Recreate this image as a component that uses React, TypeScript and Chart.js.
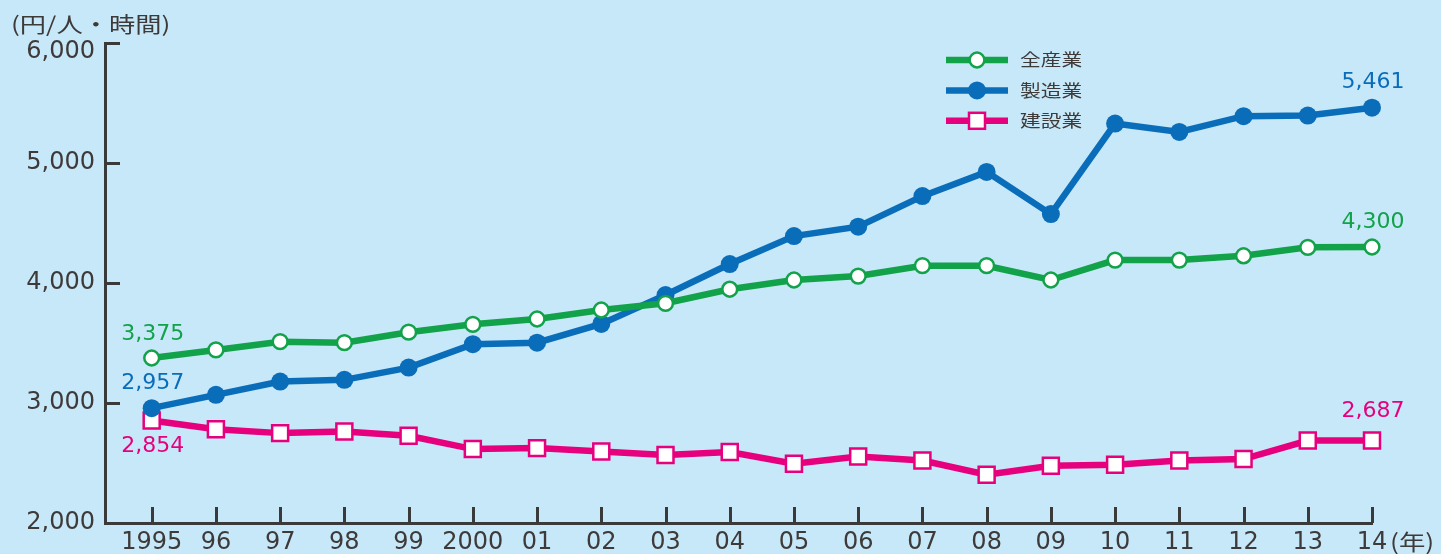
import React, { useEffect, useRef } from "react";
import { Chart, registerables } from "chart.js";

Chart.register(...registerables);

const years = [1995, 1996, 1997, 1998, 1999, 2000, 2001, 2002, 2003, 2004, 2005, 2006, 2007, 2008, 2009, 2010, 2011, 2012, 2013, 2014];
const yearLabels = ["1995", "96", "97", "98", "99", "2000", "01", "02", "03", "04", "05", "06", "07", "08", "09", "10", "11", "12", "13", "14"];
const allIndustries = [3375, 3442, 3511, 3503, 3590, 3656, 3700, 3775, 3831, 3948, 4025, 4058, 4144, 4144, 4025, 4191, 4191, 4227, 4297, 4300];
const manufacturing = [2957, 3068, 3179, 3193, 3295, 3490, 3503, 3659, 3900, 4158, 4391, 4469, 4724, 4926, 4574, 5329, 5259, 5390, 5395, 5461];
const construction = [2854, 2782, 2749, 2762, 2727, 2616, 2624, 2596, 2566, 2591, 2494, 2554, 2521, 2402, 2477, 2485, 2521, 2533, 2687, 2687];
const seriesNames = ["全産業", "製造業", "建設業"];
const yTicks = [2000, 3000, 4000, 5000, 6000];
const unitLabel = "(円/人・時間)";
const yearUnit = "(年)";

const GREEN = "#12a24a";
const BLUE = "#0a6dba";
const PINK = "#e6007e";
const AXIS = "#3a3a3a";
const TEXT = "#3e3a39";
const BG = "#c7e8f8";
const NUM_FONT = "'DejaVu Sans', sans-serif";
const CJK_FONT = "'Noto Sans CJK JP', sans-serif";

const seriesValues = [allIndustries, manufacturing, construction];
const seriesColors = [GREEN, BLUE, PINK];

// value annotations: series index, point index, vertical offset
const annotations = [
  { s: 0, i: 0, dy: -24 },
  { s: 1, i: 0, dy: -25 },
  { s: 2, i: 0, dy: 26 },
  { s: 1, i: 19, dy: -25 },
  { s: 0, i: 19, dy: -25 },
  { s: 2, i: 19, dy: -29 },
];

function fmt(v: number) {
  return v.toLocaleString("en-US");
}

function drawMarker(ctx: CanvasRenderingContext2D, s: number, x: number, y: number) {
  ctx.save();
  if (s === 0) {
    ctx.beginPath();
    ctx.arc(x, y, 7.4, 0, Math.PI * 2);
    ctx.fillStyle = "#ffffff";
    ctx.fill();
    ctx.lineWidth = 2.5;
    ctx.strokeStyle = GREEN;
    ctx.stroke();
  } else if (s === 1) {
    ctx.beginPath();
    ctx.arc(x, y, 9, 0, Math.PI * 2);
    ctx.fillStyle = BLUE;
    ctx.fill();
  } else {
    ctx.fillStyle = "#ffffff";
    ctx.fillRect(x - 8, y - 8, 16, 16);
    ctx.lineWidth = 2.5;
    ctx.strokeStyle = PINK;
    ctx.strokeRect(x - 8, y - 8, 16, 16);
  }
  ctx.restore();
}

function drawStretched(ctx: CanvasRenderingContext2D, text: string, x: number, y: number, sx: number) {
  ctx.save();
  ctx.translate(x, y);
  ctx.scale(sx, 1);
  ctx.fillText(text, 0, 0);
  ctx.restore();
}

const decorPlugin = {
  id: "decor",
  beforeDatasetsDraw(chart: any) {
    const { ctx, chartArea } = chart;
    const x = chart.scales.x;
    const y = chart.scales.y;
    ctx.save();
    ctx.strokeStyle = AXIS;
    ctx.lineWidth = 3;
    ctx.beginPath();
    years.forEach((v) => {
      const px = Math.round(x.getPixelForValue(v)) + 0.5;
      ctx.moveTo(px, chartArea.bottom);
      ctx.lineTo(px, chartArea.bottom - 16);
    });
    yTicks.slice(1).forEach((v) => {
      const py = Math.round(y.getPixelForValue(v)) + 0.5;
      ctx.moveTo(chartArea.left, py);
      ctx.lineTo(chartArea.left + 15, py);
    });
    ctx.stroke();
    ctx.restore();
  },
  afterDraw(chart: any) {
    const { ctx, chartArea } = chart;
    const x = chart.scales.x;
    const y = chart.scales.y;
    ctx.save();

    // top y tick label sits slightly below its tick in the reference
    ctx.font = `24px ${NUM_FONT}`;
    ctx.fillStyle = TEXT;
    ctx.textAlign = "right";
    ctx.textBaseline = "middle";
    const topTick = yTicks[yTicks.length - 1];
    ctx.fillText(fmt(topTick), chartArea.left - 10, y.getPixelForValue(topTick) + 9);

    // value annotations
    ctx.font = `22px ${NUM_FONT}`;
    ctx.textAlign = "center";
    ctx.textBaseline = "middle";
    annotations.forEach((a) => {
      const v = seriesValues[a.s][a.i];
      ctx.fillStyle = seriesColors[a.s];
      ctx.fillText(fmt(v), x.getPixelForValue(years[a.i]) + 1, y.getPixelForValue(v) + a.dy);
    });

    // legend
    ctx.textAlign = "left";
    ctx.textBaseline = "middle";
    ctx.font = `17px ${CJK_FONT}`;
    seriesNames.forEach((name, s) => {
      const ry = 60 + s * 30.4;
      ctx.save();
      ctx.strokeStyle = seriesColors[s];
      ctx.lineWidth = 6.5;
      ctx.beginPath();
      ctx.moveTo(946, ry);
      ctx.lineTo(1008, ry);
      ctx.stroke();
      ctx.restore();
      drawMarker(ctx, s, 977, ry);
      ctx.fillStyle = TEXT;
      drawStretched(ctx, name, 1020, ry, 1.22);
    });

    // unit labels
    ctx.fillStyle = TEXT;
    ctx.font = `21px ${CJK_FONT}`;
    drawStretched(ctx, unitLabel, 11, 24, 1.25);
    ctx.font = `22px ${CJK_FONT}`;
    drawStretched(ctx, yearUnit, 1390, 542, 1.2);

    ctx.restore();
  },
};

export default function App() {
  const canvasRef = useRef<HTMLCanvasElement | null>(null);

  useEffect(() => {
    document.body.style.margin = "0";
    const canvas = canvasRef.current;
    if (!canvas) return;

    const mk = (s: number) => ({
      label: seriesNames[s],
      data: years.map((yr, i) => ({ x: yr, y: seriesValues[s][i] })),
      borderColor: seriesColors[s],
      borderWidth: 6.5,
      tension: 0,
      clip: false as any,
      pointStyle: s === 2 ? "rect" : "circle",
      pointRadius: s === 0 ? 7.4 : s === 1 ? 9 : 11.3,
      pointBackgroundColor: s === 1 ? BLUE : "#ffffff",
      pointBorderColor: seriesColors[s],
      pointBorderWidth: s === 1 ? 0 : 2.5,
      pointHoverRadius: s === 0 ? 7.4 : s === 1 ? 9 : 11.3,
    });

    const chart = new Chart(canvas, {
      type: "line",
      data: { datasets: [mk(0), mk(1), mk(2)] },
      options: {
        animation: false,
        responsive: false,
        devicePixelRatio: 1,
        layout: { padding: { top: 43, right: 69, left: 0, bottom: 0 } },
        plugins: { legend: { display: false }, tooltip: { enabled: false } },
        scales: {
          x: {
            type: "linear",
            min: 1994.273,
            max: 2014,
            grid: { display: false, drawTicks: false },
            border: { display: true, color: AXIS, width: 3 },
            afterBuildTicks: (scale: any) => {
              scale.ticks = years.map((v) => ({ value: v }));
            },
            afterFit: (scale: any) => {
              scale.height = 31;
            },
            ticks: {
              autoSkip: false,
              maxRotation: 0,
              padding: 5,
              color: TEXT,
              font: { family: NUM_FONT, size: 24 },
              callback: (v: any) => {
                const idx = years.indexOf(Number(v));
                return idx >= 0 ? yearLabels[idx] : "";
              },
            },
          },
          y: {
            type: "linear",
            min: 2000,
            max: 6000,
            grid: { display: false, drawTicks: false },
            border: { display: true, color: AXIS, width: 3 },
            afterBuildTicks: (scale: any) => {
              scale.ticks = yTicks.map((v) => ({ value: v }));
            },
            afterFit: (scale: any) => {
              scale.width = 105;
            },
            ticks: {
              padding: 10,
              color: TEXT,
              font: { family: NUM_FONT, size: 24 },
              callback: (v: any) => (Number(v) === yTicks[yTicks.length - 1] ? "" : fmt(Number(v))),
            },
          },
        },
      },
      plugins: [decorPlugin],
    });

    return () => chart.destroy();
  }, []);

  return (
    <div style={{ position: "absolute", left: 0, top: 0, width: 1441, height: 554, background: BG }}>
      <canvas ref={canvasRef} width={1441} height={554} style={{ display: "block", width: 1441, height: 554 }} />
    </div>
  );
}
